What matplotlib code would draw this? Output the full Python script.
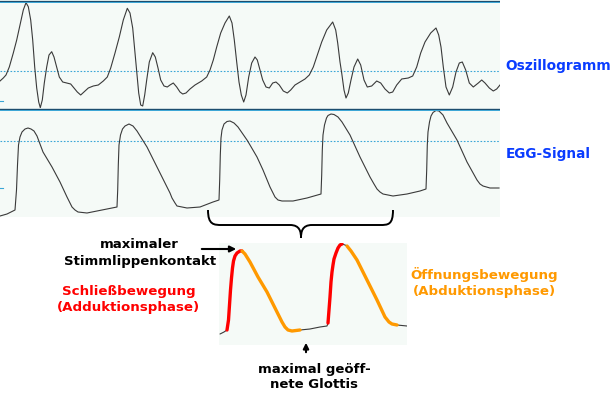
import matplotlib
matplotlib.use("Agg")
import matplotlib.pyplot as plt
from matplotlib.path import Path
from matplotlib.patches import PathPatch

W, H = 613, 399

# --- Oszillogramm (oberes Feld), x = Zeit in px, y = Auslenkung in px (nach unten) ---
osz_x = [0, 3.3, 6, 9.3, 13.3, 16.7, 20, 23.3, 26, 28.3, 30.7, 32.7, 34.7, 36.7, 38.7, 40.3,
         42.3, 44.3, 46.7, 49, 51.7, 54, 56.7, 59.3, 62.7, 66.7, 70.7, 74, 77.3, 80.7, 84, 88.3,
         93.3, 98.3, 103.3, 107.3, 110.7, 115, 119.3, 123.3, 127.3, 130, 132.7, 134.7, 136.7, 138.7,
         140.7, 142.7, 144.7, 146.7, 149.3, 152.7, 155.3, 158, 160.7, 164, 167.3, 170, 173.3, 176.7,
         180, 182.7, 186, 190, 195, 201.7, 206.7, 210, 213.3, 216.7, 220.7, 225, 229.3, 232, 234.3,
         236.7, 239, 241.3, 243.7, 246, 248.7, 251.7, 255, 257.3, 260, 262.7, 266, 269.3, 272.7, 276,
         279.3, 283.3, 287.3, 290.7, 295, 300, 305, 309.3, 313.3, 317.3, 321.7, 326.7, 332.7, 335.7,
         337.7, 340, 341.7, 344, 346, 348.3, 351, 354, 357.7, 360.7, 364, 367.3, 371.7, 376.7, 380.7,
         385, 389.3, 392.7, 396.7, 401.7, 408.3, 412.7, 416.7, 420.7, 425, 430.7, 436, 438.7, 441,
         443.3, 446, 449.3, 452.7, 456, 459.3, 462.3, 465.7, 469.3, 473.3, 478.3, 481.7, 485, 489.3,
         493.3, 496.7, 500]
osz_y = [81, 78, 75, 67, 53, 40, 25, 10, 2.7, 6.7, 20, 40, 67, 88, 102, 107.7,
         100, 83, 67, 55, 51.7, 57, 67, 77, 82, 83, 84, 88, 92, 95, 92, 88,
         86, 85, 81, 77, 68, 53, 37, 20, 8.3, 13, 28, 50, 73, 93,
         105, 106, 95, 80, 62, 52.7, 57, 68, 80, 86, 87, 85, 83, 87,
         92, 94, 93, 89, 85, 81, 77, 70, 60, 47, 33, 23, 16, 23, 40,
         62, 82, 95, 102, 95, 77, 63, 57, 60, 70, 80, 87, 88, 83, 82,
         85, 91, 93, 90, 85, 82, 79, 75, 67, 55, 42, 30, 22, 30,
         43, 62, 73, 90, 98, 93, 80, 67, 59, 65, 80, 87, 86, 81, 83,
         89, 93, 92, 85, 79, 78, 76, 67, 53, 42, 33, 28, 35, 47,
         67, 87, 95, 87, 72, 63, 62, 70, 83, 87, 83, 80, 83, 88,
         91, 89, 85]

# --- EGG-Signal (mittleres Feld) ---
egg_x = [0, 7, 15, 16.5, 17.5, 18.5, 20, 22, 25, 28, 31, 34, 37, 43, 52, 60, 67, 70, 72, 75,
         78, 87, 97, 107, 117, 117.7, 118.3, 119, 120.5, 122.5, 125, 129, 133, 137, 147, 157, 165, 170,
         172, 175, 177, 187, 200, 213, 219, 219.7, 220.3, 221, 222, 224, 227, 230, 234, 238, 247,
         250, 257, 263, 270, 273, 275, 278, 282, 293, 307, 321, 321.7, 322.3, 323, 324.5, 326.5, 328,
         331, 334, 338, 342, 350, 360, 370, 374, 377, 380, 383, 393, 407, 420, 426, 426.7, 427.3,
         428, 429.5, 431, 433, 436, 439, 443, 447, 457, 467, 477, 480, 483, 490, 499]
egg_y = [216, 214, 210, 190, 165, 145, 137, 132, 129, 128, 129, 131, 136, 152, 167, 182, 197, 203, 207, 210,
         212, 213, 211, 209, 207, 190, 165, 145, 135, 129, 126, 124, 126, 131, 147, 167, 183, 193,
         198, 203, 206, 208, 207, 202, 200, 180, 155, 138, 130, 124, 121.5, 121, 123, 127, 140,
         145, 157, 170, 187, 193, 197, 200, 201, 201, 198, 194, 175, 150, 135, 125, 118, 115.5,
         114, 114.5, 117, 122, 135, 157, 177, 184, 189, 192, 194, 196, 194, 191, 189, 170, 145,
         132, 122, 116, 112.5, 110.5, 111, 115, 123, 140, 162, 180, 184, 186, 188, 188]

# --- Ausschnitt zwei Perioden, Phase: k = Ruhe, r = Schließen, o = Öffnen ---
ins_x = [220, 224, 227, 228.5, 229.5, 230.5, 231.5, 232.5, 233.5, 235, 237, 240, 242, 245, 250, 258,
         267, 275, 282, 285, 288, 292, 300, 310, 320, 327, 328, 329, 330, 331, 332, 333, 334, 336,
         338, 340, 342, 345, 347, 351, 357, 367, 377, 385, 389, 392, 397, 407]
ins_y = [334, 332, 330, 320, 305, 290, 278, 268, 261, 256, 253, 251, 251, 254, 262, 277,
         292, 308, 322, 327, 330, 331, 330, 329, 327, 326, 323, 310, 297, 282, 272, 265, 259, 253,
         248, 245, 244, 245, 246, 251, 260, 280, 300, 317, 322, 324, 325, 326]
ins_phase = ["k", "k", "r", "r", "r", "r", "r", "r", "r", "r", "r", "r", "o", "o", "o", "o",
             "o", "o", "o", "o", "o", "o", "k", "k", "k", "k", "r", "r", "r", "r", "r", "r", "r", "r",
             "r", "r", "k", "k", "o", "o", "o", "o", "o", "o", "o", "o", "k", "k"]

# Klammer (Bezier-Stützpunkte in px)
brace_pts = [(208, 210), (208, 225), (214, 225), (222, 225), (290, 225), (300, 225), (301, 232), (301, 238),
             (301, 232), (302, 225), (312, 225), (380, 225), (388, 225), (393, 225), (393, 210)]

BG = "#f5faf7"
DARK = "#1c4d6e"
CYAN = "#3aa6d6"
TRACE = "#3a3a3a"
BLUE = "#0a3cff"
RED = "#ff0000"
ORANGE = "#ff9900"


def px_axes(fig, x0, y0, x1, y1):
    ax = fig.add_axes([x0 / W, 1 - y1 / H, (x1 - x0) / W, (y1 - y0) / H])
    ax.set_xlim(x0, x1)
    ax.set_ylim(y1, y0)
    ax.set_axis_off()
    return ax


fig = plt.figure(figsize=(W / 100, H / 100), dpi=100)
fig.patch.set_facecolor("white")
plt.rcParams["font.family"] = ["DejaVu Sans"]

# 1. Oszillogramm
ax1 = px_axes(fig, 0, 0, 500, 108)
ax1.add_patch(plt.Rectangle((0, 0), 500, 108, color=BG, zorder=0))
ax1.axhline(71, color=CYAN, lw=0.8, ls=(0, (1.5, 1.5)), zorder=1)
ax1.plot([0, 3], [101, 101], color=CYAN, lw=0.8)
ax1.plot(osz_x, osz_y, color=TRACE, lw=0.8, zorder=3)
ax1.axhline(1, color=DARK, lw=0.9, zorder=4)
ax1.axhline(2, color=CYAN, lw=0.7, zorder=4)

# 2. EGG
ax2 = px_axes(fig, 0, 108, 500, 217)
ax2.add_patch(plt.Rectangle((0, 108), 500, 109, color=BG, zorder=0))
ax2.axhline(141, color=CYAN, lw=0.8, ls=(0, (1.5, 1.5)), zorder=1)
ax2.plot([0, 3], [188, 188], color=CYAN, lw=0.8)
ax2.plot(egg_x, egg_y, color=TRACE, lw=0.8, zorder=3)
ax2.axhline(109, color=DARK, lw=1.0, zorder=4)
ax2.axhline(110.2, color=CYAN, lw=0.7, zorder=4)

# 3. Ausschnitt
ax3 = px_axes(fig, 219, 243, 407, 345)
ax3.add_patch(plt.Rectangle((219, 243), 188, 102, color=BG, zorder=0))
farben = {"k": (TRACE, 0.8), "r": (RED, 2.4), "o": (ORANGE, 2.4)}
start = 0
for i in range(1, len(ins_x) + 1):
    if i == len(ins_x) or ins_phase[i] != ins_phase[start]:
        stop = min(i + 1, len(ins_x))
        c, lw = farben[ins_phase[start]]
        ax3.plot(ins_x[start:stop], ins_y[start:stop], color=c, lw=lw,
                 solid_capstyle="round", solid_joinstyle="round", zorder=3 if c == TRACE else 4)
        start = i

# Overlay für Beschriftungen
ov = px_axes(fig, 0, 0, W, H)
ov.set_zorder(10)

codes = [Path.MOVETO] + [Path.CURVE4] * 3 + [Path.LINETO] + [Path.CURVE4] * 3 \
        + [Path.CURVE4] * 3 + [Path.LINETO] + [Path.CURVE4] * 3
ov.add_patch(PathPatch(Path(brace_pts, codes), fill=False, lw=1.4, color="black"))

ov.text(558, 66, "Oszillogramm", color=BLUE, fontsize=9.9, fontweight="bold", ha="center", va="center")
ov.text(548, 154, "EGG-Signal", color=BLUE, fontsize=9.8, fontweight="bold", ha="center", va="center")

ov.text(139, 245, "maximaler", fontsize=9.5, fontweight="bold", ha="center", va="center")
ov.text(140, 261, "Stimmlippenkontakt", fontsize=9.5, fontweight="bold", ha="center", va="center")
ov.annotate("", xy=(239, 249), xytext=(199, 249),
            arrowprops=dict(arrowstyle="-|>", color="black", lw=1.5, mutation_scale=9))

ov.text(128.5, 292, "Schließbewegung", color=RED, fontsize=9.6, fontweight="bold", ha="center", va="center")
ov.text(128.5, 308, "(Adduktionsphase)", color=RED, fontsize=9.6, fontweight="bold", ha="center", va="center")

ov.text(484.5, 275, "Öffnungsbewegung", color=ORANGE, fontsize=9.6, fontweight="bold", ha="center", va="center")
ov.text(484.5, 291, "(Abduktionsphase)", color=ORANGE, fontsize=9.6, fontweight="bold", ha="center", va="center")

ov.annotate("", xy=(306, 340), xytext=(306, 355),
            arrowprops=dict(arrowstyle="-|>", color="black", lw=1.5, mutation_scale=8))
ov.text(314, 370, "maximal geöff-", fontsize=9.5, fontweight="bold", ha="center", va="center")
ov.text(314.5, 384, "nete Glottis", fontsize=9.5, fontweight="bold", ha="center", va="center")

fig.savefig("out.png", dpi=100)
